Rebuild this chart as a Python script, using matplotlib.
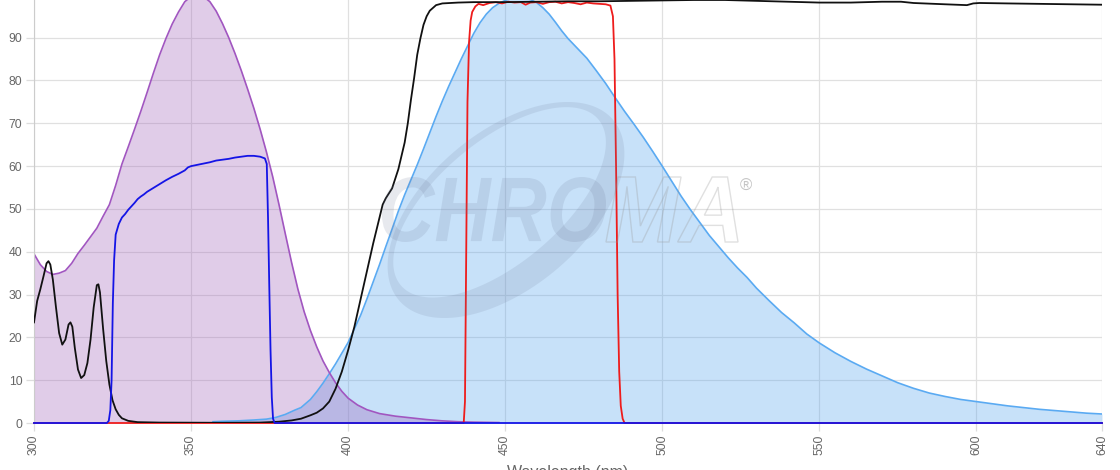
import numpy as np
import matplotlib
matplotlib.use("Agg")
import matplotlib.pyplot as plt
from matplotlib.patches import PathPatch
from matplotlib.path import Path
from matplotlib.textpath import TextPath
from matplotlib.font_manager import FontProperties
from matplotlib.transforms import Affine2D, IdentityTransform

# ---------------- data ----------------
# Excitation spectrum (purple, filled)
exc_wl = [300, 302, 304, 306, 308, 310, 312, 314, 316, 318,
          320, 322, 324, 326, 328, 330, 332, 334, 336, 338,
          340, 342, 344, 346, 348, 350, 352, 354, 356, 358,
          360, 362, 364, 366, 368, 370, 372, 374, 376, 378,
          380, 382, 384, 386, 388, 390, 392, 394, 396, 398,
          400, 403, 406, 410, 415, 420, 425, 430, 435, 440,
          448]
exc_val = [39.5, 37.0, 35.4, 34.7, 35.0, 35.6, 37.3, 39.6, 41.5, 43.5,
           45.5, 48.3, 51.0, 55.5, 60.5, 64.5, 68.6, 72.8, 77.2, 81.7,
           86.0, 89.8, 93.2, 96.0, 98.4, 99.6, 100.0, 99.6, 98.4, 96.2,
           93.3, 90.0, 86.3, 82.3, 78.0, 73.5, 68.6, 63.3, 57.5, 51.0,
           44.2, 37.5, 31.3, 26.0, 21.6, 17.8, 14.5, 11.8, 9.4, 7.4,
           5.8, 4.2, 3.1, 2.2, 1.6, 1.2, 0.8, 0.5, 0.3, 0.2,
           0.1]

# Emission spectrum (light blue, filled)
em_wl = [357, 360, 365, 370, 374, 377, 380, 383, 385, 388,
         390, 392, 394, 396, 398, 400, 402, 404, 406, 408,
         410, 412, 414, 416, 418, 420, 422, 424, 426, 428,
         430, 432, 434, 436, 438, 440, 442, 444, 446, 448,
         450, 452, 454, 456, 458, 460, 462, 464, 466, 468,
         470, 473, 476, 479, 482, 485, 488, 491, 494, 497,
         500, 503, 506, 509, 512, 515, 518, 521, 524, 527,
         530, 534, 538, 542, 546, 550, 555, 560, 565, 570,
         575, 580, 585, 590, 595, 600, 605, 610, 615, 620,
         625, 630, 635, 640]
em_val = [0.3, 0.4, 0.5, 0.7, 0.9, 1.3, 2.0, 3.0, 3.6, 5.5,
          7.3, 9.3, 11.5, 13.8, 16.3, 18.8, 22.0, 25.2, 29.0, 33.0,
          37.0, 41.2, 45.3, 49.5, 53.3, 56.8, 60.3, 64.0, 67.8, 71.6,
          75.2, 78.6, 81.8, 85.0, 88.0, 91.0, 93.5, 95.5, 97.0, 98.0,
          98.7, 99.2, 99.4, 99.3, 98.9, 98.2, 97.0, 95.5, 93.6, 91.6,
          89.8, 87.5, 85.2, 82.3, 79.3, 76.0, 72.8, 69.8, 66.7, 63.4,
          60.0, 56.5, 53.0, 49.8, 46.8, 43.8, 41.2, 38.6, 36.2, 34.0,
          31.5, 28.6, 25.8, 23.4, 20.8, 18.7, 16.4, 14.4, 12.6, 11.0,
          9.4, 8.1, 7.0, 6.2, 5.5, 5.0, 4.5, 4.0, 3.6, 3.2,
          2.9, 2.6, 2.3, 2.1]

# Dichroic / longpass (black)
dic_wl = [300, 301, 302, 303, 304, 304.6, 305.2, 306, 307, 308,
          309, 310, 311, 311.6, 312.2, 313, 314, 315, 316, 317,
          318, 319, 320, 320.5, 321, 322, 323, 324, 325, 326,
          327, 328, 330, 333, 340, 360, 372, 378, 382, 385,
          388, 390, 392, 394, 396, 398, 400, 402, 404, 406,
          408, 410, 411, 412, 414, 416, 418, 419, 420, 421,
          422, 423, 424, 425, 426, 428, 430, 435, 440, 450,
          460, 470, 480, 490, 500, 510, 520, 530, 540, 550,
          560, 570, 576, 580, 590, 597, 599, 601, 610, 620,
          630, 640]
dic_val = [23.5, 28.5, 31.2, 34.2, 37.3, 37.8, 37.0, 33.5, 27.0, 21.0,
           18.3, 19.5, 23.0, 23.5, 22.5, 17.5, 12.5, 10.5, 11.2, 14.0,
           19.5, 27.0, 32.2, 32.4, 30.5, 22.0, 14.5, 9.0, 5.3, 3.2,
           1.9, 1.1, 0.5, 0.2, 0.1, 0.05, 0.1, 0.3, 0.6, 1.0,
           1.8, 2.4, 3.4, 5.0, 8.0, 12.0, 17.0, 22.5, 29.0, 35.5,
           42.0, 48.0, 51.0, 52.5, 54.8, 59.3, 65.5, 70.0, 75.5, 80.5,
           86.0, 89.8, 93.0, 95.0, 96.3, 97.6, 98.0, 98.2, 98.3, 98.3,
           98.4, 98.5, 98.5, 98.6, 98.7, 98.8, 98.8, 98.6, 98.4, 98.2,
           98.2, 98.4, 98.4, 98.1, 97.8, 97.6, 98.0, 98.1, 98.0, 97.9,
           97.8, 97.7]

# Emission filter (red)
emf_wl = [300, 436.8, 437.2, 437.6, 438.0, 438.5, 439.0, 439.5, 440.5, 441.5,
          443, 445, 447, 449, 451, 453, 455, 456.5, 458, 460,
          462, 464, 466, 468, 470, 472, 474, 476, 478, 480,
          482, 483.5, 484.3, 484.8, 485.3, 485.8, 486.3, 486.8, 487.4, 488,
          640]
emf_val = [0, 0, 5, 40, 75, 89, 94, 96, 97.3, 97.9,
           97.6, 98.1, 98.3, 98.0, 98.4, 98.2, 98.3, 97.7, 98.2, 98.3,
           97.9, 98.3, 98.4, 98.0, 98.3, 98.1, 97.8, 98.2, 98.0, 97.9,
           97.8, 97.5, 95, 85, 60, 30, 12, 4, 1, 0,
           0]

# Excitation filter (blue)
exf_wl = [300, 323.2, 323.8, 324.3, 324.7, 325.1, 325.5, 326, 327, 328,
          329, 330, 331, 332, 333, 334, 335, 336, 338, 340,
          342, 344, 346, 348, 349, 350, 352, 354, 356, 358,
          360, 362, 364, 366, 368, 370, 372, 373.5, 374.1, 374.5,
          374.9, 375.3, 375.7, 376.1, 376.6, 640]
exf_val = [0, 0, 0.5, 3, 10, 28, 38, 44, 46.5, 48,
           48.8, 49.8, 50.6, 51.4, 52.3, 52.9, 53.4, 54, 54.9, 55.8,
           56.7, 57.5, 58.2, 59.0, 59.7, 60.0, 60.3, 60.6, 60.9, 61.3,
           61.5, 61.7, 62.0, 62.2, 62.4, 62.4, 62.2, 61.8, 60.5, 48,
           32, 17, 6, 1, 0, 0]

x_ticks = [300, 350, 400, 450, 500, 550, 600, 640]
y_ticks = [0, 10, 20, 30, 40, 50, 60, 70, 80, 90]
x_label = "Wavelength (nm)"

# ---------------- figure ----------------
plt.rcParams["font.family"] = ["Liberation Sans", "DejaVu Sans"]
W, H = 1120, 470
fig = plt.figure(figsize=(W / 100, H / 100), dpi=100)
ax = fig.add_axes([34 / W, 47 / H, (1102 - 34) / W, 423 / H])

ax.set_xlim(300, 640)
ax.set_ylim(0, 98.8)

# fills
ax.fill_between(em_wl, em_val, 0, color=(72 / 255, 158 / 255, 238 / 255),
                alpha=0.30, lw=0, zorder=1)
ax.fill_between(exc_wl, exc_val, 0, color=(155 / 255, 89 / 255, 182 / 255),
                alpha=0.30, lw=0, zorder=1.1)

# outlines / curves
ax.plot(em_wl, em_val, color="#5aaaf2", lw=1.2, zorder=2)
ax.plot(exc_wl, exc_val, color="#a156c0", lw=1.2, zorder=2.1)
ax.plot(emf_wl, emf_val, color="#ee1c1c", lw=1.3, zorder=3, clip_on=False)
ax.plot(exf_wl, exf_val, color="#1414e6", lw=1.3, zorder=3.2, clip_on=False)
ax.plot(dic_wl, dic_val, color="#111111", lw=1.3, zorder=3.1)

# axes styling
ax.set_xticks(x_ticks)
ax.set_yticks(y_ticks)
ax.grid(True, color="#e0e0e0", lw=0.9)
ax.set_axisbelow(True)
for s in ["top", "right", "bottom"]:
    ax.spines[s].set_visible(False)
ax.spines["left"].set_color("#cccccc")
ax.tick_params(axis="both", length=6, width=0.9, color="#dddddd",
               labelcolor="#666666", labelsize=8.8)
ax.tick_params(axis="x", labelrotation=90, pad=2.2)
ax.tick_params(axis="y", pad=2.4)
ax.set_xlabel(x_label, color="#666666", fontsize=11.5, labelpad=7)

# ---------------- watermark ----------------
wm_col = (110 / 255, 120 / 255, 150 / 255)


def text_patch(s, box, face, edge, lw, alpha):
    fp = FontProperties(family="Liberation Sans", weight="bold", style="italic")
    tp = TextPath((0, 0), s, prop=fp, size=100)
    ext = tp.get_extents()
    x0, y0, x1, y1 = box
    sx = (x1 - x0) / ext.width
    sy = (y1 - y0) / ext.height
    tr = Affine2D().translate(-ext.x0, -ext.y0).scale(sx, sy).translate(x0, H - y1)
    path = tr.transform_path(tp)
    p = PathPatch(path, transform=IdentityTransform(), facecolor=face,
                  edgecolor=edge, lw=lw, alpha=alpha, zorder=5)
    fig.add_artist(p)


text_patch("CHRO", (382, 177, 606, 242), wm_col, "none", 0, 0.16)
text_patch("MA", (606, 177, 738, 242), "none", (0.6, 0.6, 0.6), 1.0, 0.30)
fig.text(746 / W, 1 - 186 / H, "®", color="#c4c4c4", fontsize=12,
         ha="center", va="center")

# swoosh crescent
t = np.linspace(0, 2 * np.pi, 240)
ang = np.deg2rad(40)
cx, cy = 506, H - 210
a_o, b_o = 140, 78
a_i, b_i, sh = 129, 61, 10
u_o, v_o = a_o * np.cos(t), b_o * np.sin(t)
u_i, v_i = a_i * np.cos(t[::-1]), b_i * np.sin(t[::-1]) + sh


def rot(u, v):
    return (cx + u * np.cos(ang) - v * np.sin(ang),
            cy + u * np.sin(ang) + v * np.cos(ang))


xo, yo = rot(u_o, v_o)
xi, yi = rot(u_i, v_i)
verts = np.concatenate([np.column_stack([xo, yo]), np.column_stack([xi, yi])])
codes = ([Path.MOVETO] + [Path.LINETO] * (len(t) - 2) + [Path.CLOSEPOLY]) * 2
swoosh = PathPatch(Path(verts, codes), transform=IdentityTransform(),
                   facecolor=wm_col, edgecolor="none", alpha=0.15, zorder=5)
fig.add_artist(swoosh)

fig.savefig("out.png", dpi=100)
